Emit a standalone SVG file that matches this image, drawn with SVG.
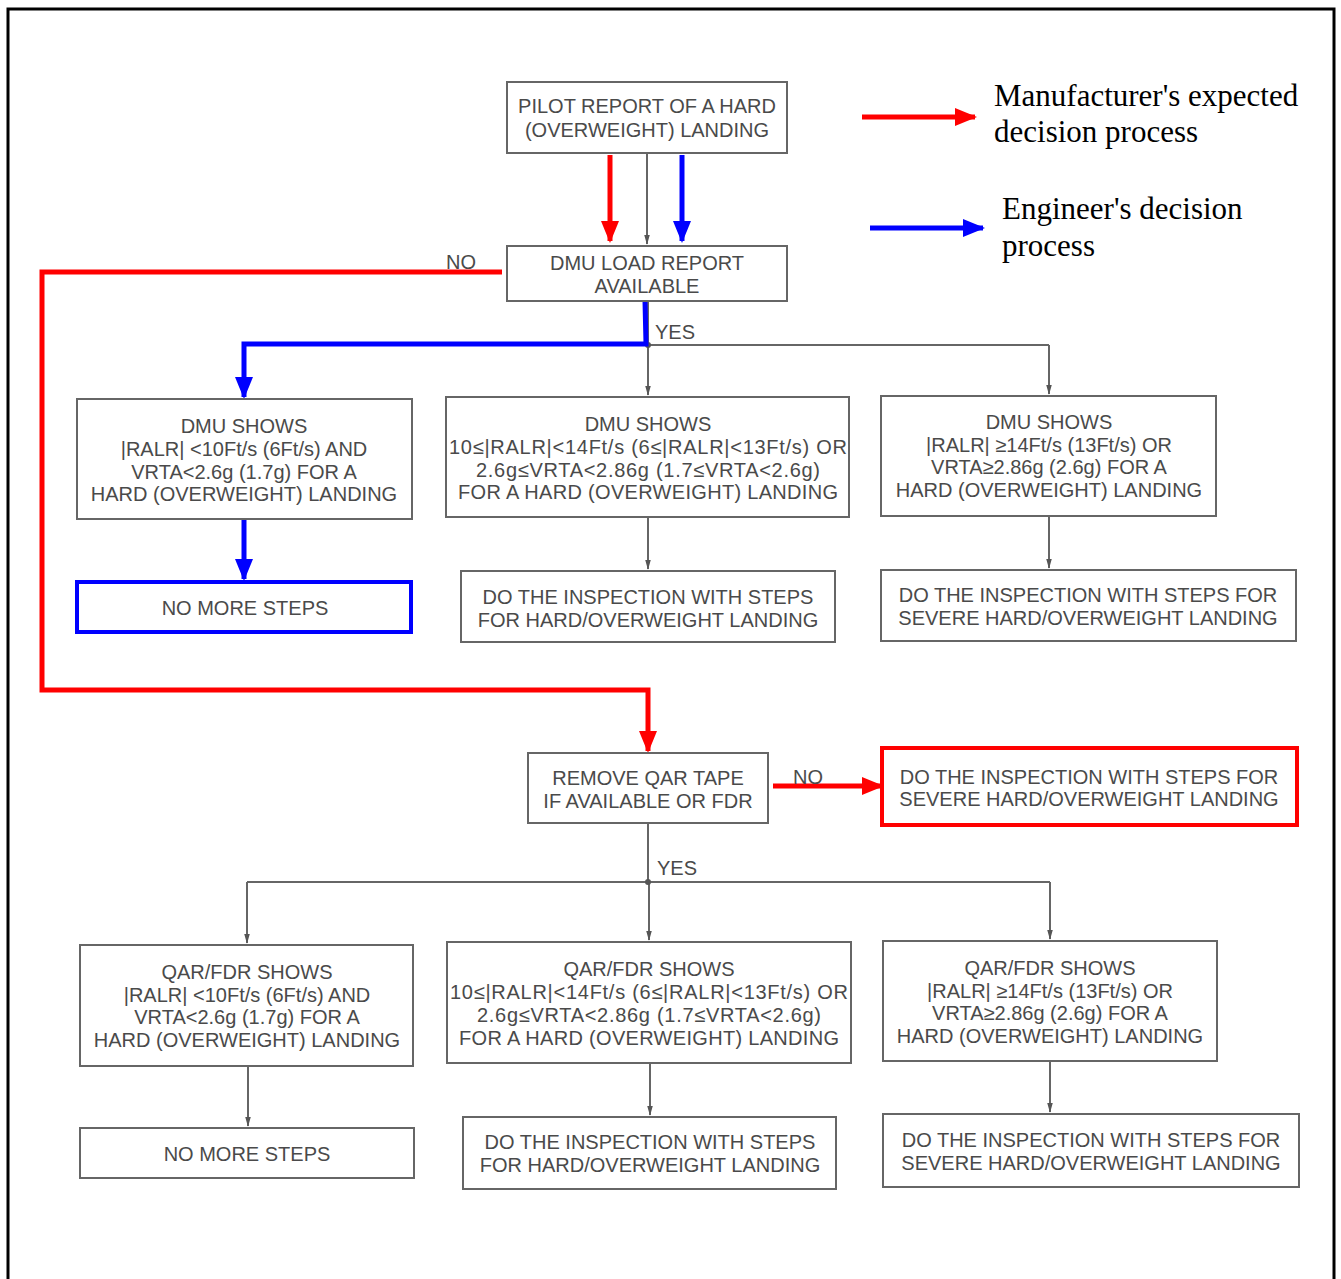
<svg xmlns="http://www.w3.org/2000/svg" width="1341" height="1279" viewBox="0 0 1341 1279">
<defs>
<style>
.box{fill:#fff;stroke:#666;stroke-width:2}
.t{font-family:"Liberation Sans",Arial,sans-serif;font-size:20px;fill:#4a4a4a;text-anchor:middle}
.lbl{font-family:"Liberation Sans",Arial,sans-serif;font-size:20px;fill:#4a4a4a}
.leg{font-family:"Liberation Serif","Times New Roman",serif;font-size:31px;fill:#000}
.g{fill:none;stroke:#666;stroke-width:2}
.r{fill:none;stroke:#ff0000;stroke-width:5}
.b{fill:none;stroke:#0000ff;stroke-width:5}
</style>
<marker id="ag" markerUnits="userSpaceOnUse" markerWidth="10" markerHeight="14" refX="13" refY="4" orient="auto" viewBox="0 0 14 8"><path d="M0,0 L14,4 L0,8 z" fill="#555"/></marker>
<marker id="ar" markerUnits="userSpaceOnUse" markerWidth="22" markerHeight="18" refX="20" refY="9" orient="auto" viewBox="0 0 22 18"><path d="M0,0 L22,9 L0,18 z" fill="#ff0000"/></marker>
<marker id="ab" markerUnits="userSpaceOnUse" markerWidth="22" markerHeight="18" refX="20" refY="9" orient="auto" viewBox="0 0 22 18"><path d="M0,0 L22,9 L0,18 z" fill="#0000ff"/></marker>
</defs>
<rect x="0" y="0" width="1341" height="1279" fill="#fff"/>
<rect x="8" y="9" width="1326" height="1300" fill="none" stroke="#000" stroke-width="3"/>

<g id="connectors">
<path class="g" d="M647,153 V244" marker-end="url(#ag)"/>
<path class="g" d="M648,301 V345"/>
<path class="g" d="M244,345 H1049"/>
<path class="g" d="M648,345 V395" marker-end="url(#ag)"/>
<path class="g" d="M1049,345 V394" marker-end="url(#ag)"/>
<circle cx="648" cy="345" r="3" fill="#555"/>
<path class="g" d="M648,517 V569" marker-end="url(#ag)"/>
<path class="g" d="M1049,516 V568" marker-end="url(#ag)"/>
<path class="g" d="M648,823 V882"/>
<path class="g" d="M247,882 H1050"/>
<path class="g" d="M247,882 V943" marker-end="url(#ag)"/>
<path class="g" d="M649,882 V940" marker-end="url(#ag)"/>
<path class="g" d="M1050,882 V939" marker-end="url(#ag)"/>
<circle cx="648" cy="882" r="3" fill="#555"/>
<path class="g" d="M248,1066 V1126" marker-end="url(#ag)"/>
<path class="g" d="M650,1063 V1115" marker-end="url(#ag)"/>
<path class="g" d="M1050,1061 V1112" marker-end="url(#ag)"/>

<path class="r" d="M610,155 V241" marker-end="url(#ar)"/>
<path class="b" d="M682,155 V241" marker-end="url(#ab)"/>
<path class="r" d="M502,272 H42 V690 H648 V751" marker-end="url(#ar)"/>
<path class="b" d="M645,301 L646,344 H244 V397" marker-end="url(#ab)"/>
<path class="b" d="M244,519 V579" marker-end="url(#ab)"/>
<path class="r" d="M773,786 H882" marker-end="url(#ar)"/>

<text class="lbl" x="446" y="269">NO</text>
<text class="lbl" x="655" y="339">YES</text>
<text class="lbl" x="793" y="784">NO</text>
<text class="lbl" x="657" y="875">YES</text>
</g>

<g id="legend">
<path class="r" d="M862,117 H975" marker-end="url(#ar)"/>
<text class="leg" x="994" y="106">Manufacturer's expected</text>
<text class="leg" x="994" y="142">decision process</text>
<path class="b" d="M870,228 H983" marker-end="url(#ab)"/>
<text class="leg" x="1002" y="219">Engineer's decision</text>
<text class="leg" x="1002" y="256">process</text>
</g>

<g id="pilot"><rect class="box" x="507" y="82" width="280" height="71"/>
<text class="t" x="647" y="113">PILOT REPORT OF A HARD</text>
<text class="t" x="647" y="137">(OVERWEIGHT) LANDING</text></g>

<g id="dmuload"><rect class="box" x="507" y="246" width="280" height="55"/>
<text class="t" x="647" y="270">DMU LOAD REPORT</text>
<text class="t" x="647" y="293">AVAILABLE</text></g>

<g id="dmuA"><rect class="box" x="77" y="399" width="335" height="120"/>
<text class="t" x="244" y="433">DMU SHOWS</text>
<text class="t" x="244" y="456">|RALR| &lt;10Ft/s (6Ft/s) AND</text>
<text class="t" x="244" y="479">VRTA&lt;2.6g (1.7g) FOR A</text>
<text class="t" x="244" y="501">HARD (OVERWEIGHT) LANDING</text></g>

<g id="dmuB"><rect class="box" x="446" y="397" width="403" height="120"/>
<text class="t" x="648" y="431">DMU SHOWS</text>
<text class="t" x="648" y="454" textLength="398" lengthAdjust="spacing">10≤|RALR|&lt;14Ft/s (6≤|RALR|&lt;13Ft/s) OR</text>
<text class="t" x="648" y="477" textLength="344" lengthAdjust="spacing">2.6g≤VRTA&lt;2.86g (1.7≤VRTA&lt;2.6g)</text>
<text class="t" x="648" y="499" textLength="380" lengthAdjust="spacing">FOR A HARD (OVERWEIGHT) LANDING</text></g>

<g id="dmuC"><rect class="box" x="881" y="396" width="335" height="120"/>
<text class="t" x="1049" y="429">DMU SHOWS</text>
<text class="t" x="1049" y="452">|RALR| ≥14Ft/s (13Ft/s) OR</text>
<text class="t" x="1049" y="474">VRTA≥2.86g (2.6g) FOR A</text>
<text class="t" x="1049" y="497">HARD (OVERWEIGHT) LANDING</text></g>

<g id="nomore1"><rect x="77" y="582" width="334" height="50" fill="#fff" stroke="#0000ff" stroke-width="4"/>
<text class="t" x="245" y="615">NO MORE STEPS</text></g>

<g id="insp1"><rect class="box" x="461" y="571" width="374" height="71"/>
<text class="t" x="648" y="604">DO THE INSPECTION WITH STEPS</text>
<text class="t" x="648" y="627">FOR HARD/OVERWEIGHT LANDING</text></g>

<g id="severe1"><rect class="box" x="881" y="570" width="415" height="71"/>
<text class="t" x="1088" y="602">DO THE INSPECTION WITH STEPS FOR</text>
<text class="t" x="1088" y="625">SEVERE HARD/OVERWEIGHT LANDING</text></g>

<g id="qar"><rect class="box" x="528" y="753" width="240" height="70"/>
<text class="t" x="648" y="785">REMOVE QAR TAPE</text>
<text class="t" x="648" y="808">IF AVAILABLE OR FDR</text></g>

<g id="severeRed"><rect x="882" y="748" width="415" height="77" fill="#fff" stroke="#ff0000" stroke-width="4"/>
<text class="t" x="1089" y="784">DO THE INSPECTION WITH STEPS FOR</text>
<text class="t" x="1089" y="806">SEVERE HARD/OVERWEIGHT LANDING</text></g>

<g id="qarA"><rect class="box" x="80" y="945" width="333" height="121"/>
<text class="t" x="247" y="979">QAR/FDR SHOWS</text>
<text class="t" x="247" y="1002">|RALR| &lt;10Ft/s (6Ft/s) AND</text>
<text class="t" x="247" y="1024">VRTA&lt;2.6g (1.7g) FOR A</text>
<text class="t" x="247" y="1047">HARD (OVERWEIGHT) LANDING</text></g>

<g id="qarB"><rect class="box" x="447" y="942" width="404" height="121"/>
<text class="t" x="649" y="976">QAR/FDR SHOWS</text>
<text class="t" x="649" y="999" textLength="398" lengthAdjust="spacing">10≤|RALR|&lt;14Ft/s (6≤|RALR|&lt;13Ft/s) OR</text>
<text class="t" x="649" y="1022" textLength="344" lengthAdjust="spacing">2.6g≤VRTA&lt;2.86g (1.7≤VRTA&lt;2.6g)</text>
<text class="t" x="649" y="1045" textLength="380" lengthAdjust="spacing">FOR A HARD (OVERWEIGHT) LANDING</text></g>

<g id="qarC"><rect class="box" x="883" y="941" width="334" height="120"/>
<text class="t" x="1050" y="975">QAR/FDR SHOWS</text>
<text class="t" x="1050" y="998">|RALR| ≥14Ft/s (13Ft/s) OR</text>
<text class="t" x="1050" y="1020">VRTA≥2.86g (2.6g) FOR A</text>
<text class="t" x="1050" y="1043">HARD (OVERWEIGHT) LANDING</text></g>

<g id="nomore2"><rect class="box" x="80" y="1128" width="334" height="50"/>
<text class="t" x="247" y="1161">NO MORE STEPS</text></g>

<g id="insp2"><rect class="box" x="463" y="1117" width="373" height="72"/>
<text class="t" x="650" y="1149">DO THE INSPECTION WITH STEPS</text>
<text class="t" x="650" y="1172">FOR HARD/OVERWEIGHT LANDING</text></g>

<g id="severe2"><rect class="box" x="883" y="1114" width="416" height="73"/>
<text class="t" x="1091" y="1147">DO THE INSPECTION WITH STEPS FOR</text>
<text class="t" x="1091" y="1170">SEVERE HARD/OVERWEIGHT LANDING</text></g>
</svg>
